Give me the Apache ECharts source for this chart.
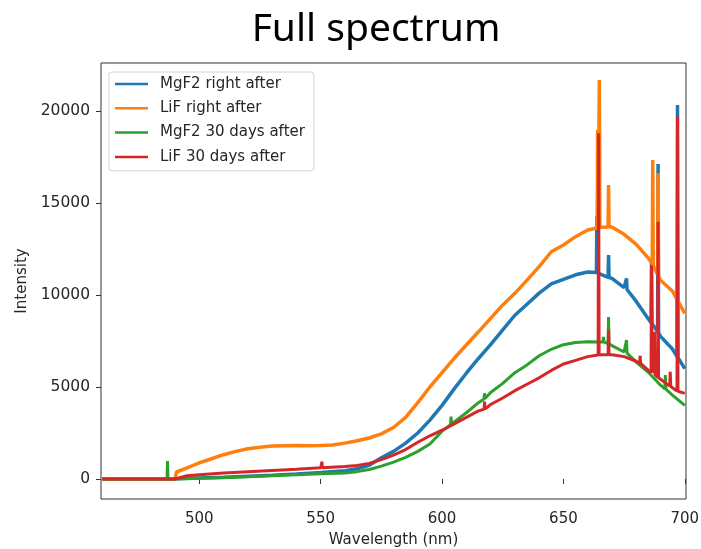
<!DOCTYPE html>
<html>
<head>
<meta charset="utf-8">
<title>Full spectrum</title>
<script src="https://cdn.jsdelivr.net/npm/echarts@6/dist/echarts.min.js"></script>
<style>
  html, body { margin: 0; padding: 0; background: #ffffff; }
  #chart { width: 701px; height: 549px; }
</style>
</head>
<body>
<div id="chart"></div>
<script>
// Emission spectra, intensity vs wavelength (nm), as [wavelength, intensity] pairs.
const seriesNames = ['MgF2 right after', 'LiF right after', 'MgF2 30 days after', 'LiF 30 days after'];

const mgf2RightAfter = [
  [460, 0], [480, 0], [490, 0], [491, 20], [495, 40], [500, 60], [510, 100], [520, 150],
  [530, 200], [540, 270], [550, 350], [560, 450], [565, 560], [570, 750], [575, 1150],
  [580, 1500], [585, 1950], [590, 2500], [595, 3200], [600, 4000], [605, 4900], [610, 5750],
  [615, 6550], [620, 7300], [625, 8100], [630, 8900], [635, 9500], [640, 10100], [645, 10600],
  [650, 10850], [655, 11100], [660, 11250],
  [663.6, 11220], [663.8, 14300], [664.0, 11210],
  [665, 11150],
  [668.4, 10960], [668.6, 12170], [668.8, 10950],
  [670, 10900], [675, 10400],
  [675.8, 10330], [676, 10900], [676.2, 10300],
  [680, 9650], [685, 8700],
  [686.1, 8500], [686.3, 11800], [686.5, 8450],
  [688.8, 8000], [689, 17120], [689.2, 7950],
  [690, 7750], [695, 7050],
  [696.8, 6650], [697, 20330], [697.2, 6600],
  [700, 6000]
];

const lifRightAfter = [
  [460, 0], [480, 0], [490, 0], [490.4, 0], [490.6, 380], [495, 600], [500, 880], [505, 1100],
  [510, 1320], [515, 1500], [520, 1640], [525, 1730], [530, 1790], [535, 1810], [540, 1820],
  [545, 1810], [550, 1820], [555, 1850], [560, 1950], [565, 2080], [570, 2230], [575, 2450],
  [580, 2800], [585, 3350], [590, 4150], [595, 5000], [600, 5780], [605, 6560], [610, 7280],
  [615, 8000], [620, 8730], [625, 9460], [630, 10090], [635, 10810], [640, 11540], [645, 12350],
  [650, 12720], [655, 13170], [660, 13530],
  [663.9, 13640], [664.1, 18970], [664.3, 13650],
  [664.6, 13660], [664.8, 21690], [665, 13680],
  [668.4, 13700], [668.6, 15980], [668.8, 13700],
  [670, 13700], [675, 13300], [680, 12750], [685, 12000],
  [686.6, 11700], [686.8, 17340], [687.0, 11600],
  [688.8, 11100], [689, 16630], [689.2, 11000],
  [690, 10800], [695, 10200], [700, 9000]
];

const mgf230Days = [
  [460, 0], [480, 0], [486.7, 0], [486.9, 980], [487.1, 0], [490, 0], [495, 20], [500, 40],
  [510, 70], [520, 120], [530, 170], [540, 230], [550, 290], [560, 330], [565, 400], [570, 520],
  [575, 700], [580, 920], [585, 1180], [590, 1500], [595, 1900], [600, 2600],
  [603.5, 2950], [603.7, 3390], [603.9, 2970],
  [605, 3100], [610, 3600], [615, 4150],
  [617.3, 4350], [617.5, 4660], [617.7, 4370],
  [620, 4700], [625, 5200], [630, 5780], [635, 6200], [640, 6700], [645, 7050], [650, 7300],
  [655, 7420], [660, 7460],
  [666.3, 7440], [666.5, 7730], [666.7, 7440],
  [668.4, 7360], [668.6, 8800], [668.8, 7350],
  [670, 7250], [675, 6900],
  [675.8, 6850], [676, 7550], [676.2, 6840],
  [680, 6350], [685, 5800], [690, 5100],
  [691.8, 4900], [692, 5650], [692.2, 4880],
  [695, 4550], [700, 4000]
];

const lif30Days = [
  [460, 0], [480, 0], [490, 0], [490.6, 100], [495, 180], [500, 230], [510, 320], [520, 390],
  [530, 460], [540, 530], [550, 610],
  [550.3, 610], [550.5, 940], [550.7, 610],
  [560, 680], [565, 740], [570, 850], [575, 1050], [580, 1300], [585, 1600], [590, 2000],
  [595, 2350], [600, 2650], [605, 3000], [610, 3350], [615, 3700],
  [617.3, 3790], [617.5, 4200], [617.7, 3800],
  [620, 4050], [625, 4400], [630, 4800], [635, 5150], [640, 5500], [645, 5900], [650, 6250],
  [655, 6450], [660, 6650],
  [664.3, 6740], [664.5, 18790], [664.7, 6750],
  [665, 6750],
  [668.4, 6750], [668.6, 8100], [668.8, 6750],
  [670, 6750], [675, 6650], [680, 6400],
  [681.4, 6300], [681.6, 6700], [681.8, 6280],
  [685, 5900],
  [686.1, 5780], [686.3, 11600], [686.5, 5760],
  [687.3, 5700], [687.5, 8000], [687.7, 5680],
  [688.8, 5520], [689, 13980], [689.2, 5500],
  [690, 5400],
  [693.8, 5050], [694, 5830], [694.2, 5030],
  [695, 4950],
  [696.8, 4780], [697, 19700], [697.2, 4770],
  [700, 4650]
];

const xTicks = [500, 550, 600, 650, 700];
const yTicks = [0, 5000, 10000, 15000, 20000];
const lineColors = ['#1f77b4', '#ff7f0e', '#2ca02c', '#d62728'];
const allData = [mgf2RightAfter, lifRightAfter, mgf230Days, lif30Days];

const textColor = '#262626';
const frameColor = '#333333';
const labelFont = 'DejaVu Sans';

const chart = echarts.init(document.getElementById('chart'), null, { renderer: 'canvas' });

chart.setOption({
  animation: false,
  backgroundColor: '#ffffff',
  graphic: [{
    type: 'text',
    x: 376,
    y: 10,
    style: {
      text: 'Full spectrum',
      fill: '#000000',
      font: '39px "Noto Sans"',
      textAlign: 'center',
      textVerticalAlign: 'top'
    }
  }],
  grid: {
    left: 101, right: 15, top: 63, bottom: 50,
    outerBoundsMode: 'none',
    containLabel: false,
    show: true,
    borderColor: frameColor,
    borderWidth: 1,
    backgroundColor: 'transparent'
  },
  legend: {
    orient: 'vertical',
    left: 109,
    top: 72,
    data: seriesNames,
    icon: 'rect',
    itemWidth: 33,
    itemHeight: 2.5,
    itemGap: 6.3,
    padding: [3, 9, 5, 6],
    backgroundColor: 'rgba(255,255,255,0.85)',
    borderColor: '#d4d4d4',
    borderWidth: 1,
    borderRadius: 3,
    textStyle: {
      fontFamily: labelFont,
      fontSize: 15,
      color: textColor,
      lineHeight: 18,
      padding: [0, 0, 0, 7]
    }
  },
  xAxis: {
    type: 'value',
    min: 459.5,
    max: 700.5,
    name: 'Wavelength (nm)',
    nameLocation: 'middle',
    nameGap: 34,
    nameTextStyle: { fontFamily: labelFont, fontSize: 15, color: textColor },
    splitLine: { show: false },
    axisLine: { show: false },
    axisTick: {
      show: true, inside: false, length: 5,
      customValues: xTicks,
      lineStyle: { color: frameColor, width: 1 }
    },
    axisLabel: {
      customValues: xTicks,
      margin: 13,
      fontFamily: labelFont,
      fontSize: 15,
      color: textColor,
      formatter: v => String(v)
    }
  },
  yAxis: {
    type: 'value',
    min: -1087,
    max: 22609,
    name: 'Intensity',
    nameLocation: 'middle',
    nameGap: 71,
    nameTextStyle: { fontFamily: labelFont, fontSize: 15, color: textColor },
    splitLine: { show: false },
    axisLine: { show: false },
    axisTick: {
      show: true, inside: false, length: 5,
      customValues: yTicks,
      lineStyle: { color: frameColor, width: 1 }
    },
    axisLabel: {
      customValues: yTicks,
      margin: 11,
      fontFamily: labelFont,
      fontSize: 15.5,
      color: textColor,
      formatter: v => String(v)
    }
  },
  series: seriesNames.map((name, i) => ({
    name: name,
    type: 'line',
    data: allData[i],
    showSymbol: false,
    symbol: 'none',
    clip: true,
    color: lineColors[i],
    lineStyle: { color: lineColors[i], width: i < 2 ? 3.5 : 3 },
    emphasis: { disabled: true }
  }))
});
</script>
</body>
</html>
